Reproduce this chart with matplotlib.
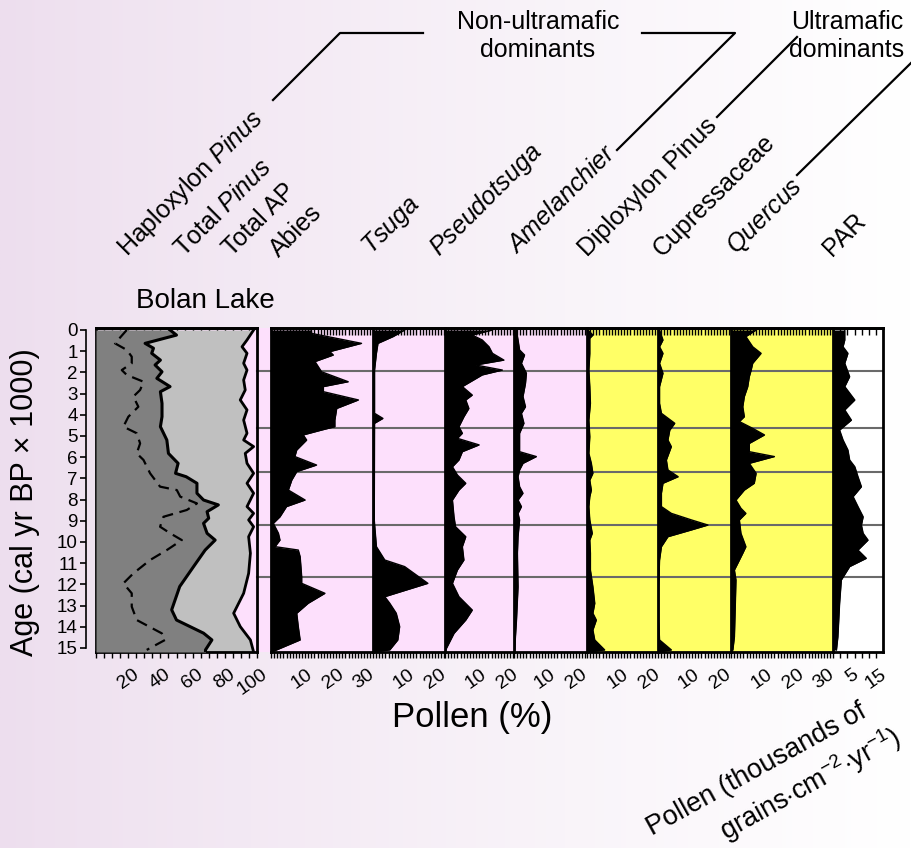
import numpy as np
import matplotlib
matplotlib.use('Agg')
import matplotlib.pyplot as plt
from matplotlib.transforms import ScaledTranslation, blended_transform_factory
from matplotlib.ticker import MultipleLocator, FixedLocator
from matplotlib.patches import Rectangle
from matplotlib.lines import Line2D

plt.rcParams['font.family'] = ['Liberation Sans', 'DejaVu Sans']
plt.rcParams['mathtext.fontset'] = 'custom'
plt.rcParams['mathtext.rm'] = 'Liberation Sans'
plt.rcParams['mathtext.it'] = 'Liberation Sans:italic'

# ---------------- data (ages in cal yr BP x 1000) ----------------
tp_age = [0, 0.24, 0.63, 0.86, 1.1, 1.42, 1.65, 1.97, 2.28, 2.67, 2.91, 3.46, 4.09, 4.56, 5.19, 5.82,
          6.29, 6.76, 6.92, 7.23, 7.7, 8.02, 8.25, 8.57, 8.88, 9.12, 9.59, 9.91, 10.38, 11.16, 12.1,
          13.2, 13.68, 14.3, 14.62, 15.09, 15.19]
tp_val = [46, 50, 30.5, 35.7, 34.6, 40, 36.7, 41, 37.8, 46, 40, 41, 41, 40, 44, 45, 51, 49.4, 56,
          62.7, 62.7, 66.8, 76, 69, 70, 66.8, 69, 74, 67.8, 60.6, 52, 47, 50, 66.8, 72, 68, 68]

ap_age = [0, 0.47, 0.79, 1.1, 1.57, 1.89, 2.36, 2.83, 3.3, 3.77, 4.25, 4.87, 5.19, 5.5, 5.82, 6.29,
          6.76, 7.23, 7.7, 8.33, 8.65, 8.96, 9.28, 9.75, 10.53, 11.48, 12.42, 13.36, 13.99, 14.62, 15.19]
ap_val = [97.9, 93.8, 90.7, 93.8, 91.7, 93.8, 91.7, 92.7, 89.6, 93.8, 91.7, 93.8, 91.7, 97.9, 92.7,
          93.8, 97.9, 93.8, 97.9, 93.8, 97.9, 94.8, 97.9, 94.8, 95.9, 94.8, 91.7, 85.5, 89.6, 95.9, 97.9]

hap_age = [0, 0.63, 0.94, 1.26, 1.57, 1.89, 2.12, 2.44, 2.83, 3.14, 3.62, 4.09, 4.56, 4.87, 5.35,
           5.82, 6.13, 6.76, 7.39, 7.55, 7.86, 8.18, 8.49, 8.81, 9.28, 9.59, 9.91, 10.38, 10.85,
           11.48, 11.95, 12.42, 13.05, 13.68, 14.31, 14.62, 15.09]
hap_val = [19.1, 11.8, 19.1, 22.2, 22.2, 16, 19.1, 29.5, 27.4, 23.2, 26.3, 20.1, 17, 25.3, 27.4,
           25.3, 29.5, 33.6, 39.8, 50.2, 52.3, 62.7, 56.4, 41.9, 39.8, 46.1, 53.3, 44, 33.6, 23.2,
           17, 22.2, 22.2, 25.3, 40.9, 42.9, 31.5]

abies_age = [0, 0.16, 0.63, 1.02, 1.18, 1.49, 1.97, 2.44, 2.67, 2.91, 3.3, 3.7, 4.25, 4.56, 4.72,
             4.95, 5.19, 5.66, 5.97, 6.37, 6.68, 7.08, 7.55, 8.02, 8.33, 8.81, 9.12, 9.59, 9.91,
             10.22, 10.38, 10.69, 11.64, 11.95, 12.42, 12.89, 13.36, 13.99, 14.62, 15.19]
abies_val = [13, 13.1, 29.2, 19, 20.1, 14.2, 16.3, 24.9, 16.9, 16.9, 28.2, 21.2, 20.6, 20.6, 16.3,
             10.4, 11.5, 8.3, 7.7, 14.7, 8.3, 6.7, 5.6, 11, 5, 2.9, 0.75, 2.4, 2.9, 1.3, 8.8, 9.4,
             9.9, 9.9, 17.4, 12, 8.3, 8.8, 9.4, 0.2]

tsuga_age = [0, 0.31, 0.63, 1.1, 1.89, 3.93, 4.17, 4.4, 8.96, 10.22, 10.85, 11.16, 11.95, 12.58,
             12.89, 13.36, 13.99, 14.62, 15.09, 15.19]
tsuga_val = [10.2, 6.5, 1.6, 1.1, 0.5, 0.5, 3.2, 0.5, 0.4, 1.1, 3.8, 10.2, 17.7, 3.8, 5.4, 7.5,
             8.6, 8, 5.4, 0]

pseudo_age = [0, 0.24, 0.47, 0.79, 1.1, 1.42, 1.65, 1.89, 2.12, 2.67, 3.07, 3.3, 3.7, 4.09, 4.56,
              4.87, 5.11, 5.42, 5.74, 6.13, 6.45, 6.84, 7.23, 7.55, 8.02, 8.81, 9.28, 9.75, 10.22,
              10.85, 11.32, 11.95, 12.58, 13.21, 13.68, 14.31, 15.09]
pseudo_val = [15.3, 8.8, 12, 14.2, 15.3, 19, 9.9, 18.5, 12, 5.6, 8.8, 6.7, 7.7, 6.1, 4.5, 5.6, 4,
              11, 5.6, 4.5, 2.4, 4, 6.7, 4.5, 2.4, 2.9, 3.4, 6.7, 5.6, 6.1, 4, 2.4, 4.5, 8.8, 6.7,
              2.9, 0.2]

amel_age = [0, 0.47, 0.94, 1.18, 1.57, 2.04, 2.52, 3.14, 3.62, 3.93, 4.4, 4.87, 5.74, 5.97, 6.29,
            6.6, 6.92, 7.39, 7.7, 8.02, 8.33, 8.65, 8.96, 9.75, 10.53, 12.11, 13.68, 15.09]
amel_val = [0.8, 1.3, 1.8, 3.4, 2.4, 4, 3.7, 2.9, 3.7, 2.4, 3.2, 1.8, 1.8, 7.2, 2.9, 1.8, 1.3, 1.8,
            2.9, 1.3, 2.4, 1.3, 1.8, 1.3, 1.1, 1.3, 0.8, 0.2]

diplo_age = [0, 0.24, 0.39, 1.1, 1.89, 2.67, 3.46, 4.25, 5.03, 5.82, 6.29, 6.76, 7.08, 7.55, 7.86,
             8.33, 8.96, 9.59, 9.91, 10.53, 11.32, 12.11, 12.89, 13.36, 13.68, 14.15, 14.62,
             15.09, 15.19]
diplo_val = [0.3, 1.9, 0.9, 0.9, 0.6, 0.9, 1.1, 0.6, 0.9, 0.6, 1.4, 1.9, 0.9, 1.4, 0.9, 0.6, 0.9,
             1.7, 0.9, 1.1, 1.1, 1.9, 2.5, 1.9, 3, 1.9, 2.5, 5.7, 0.3]

cupr_age = [0, 0.47, 0.79, 1.1, 1.57, 2.04, 2.67, 3.46, 3.93, 4.4, 4.72, 5.19, 5.5, 6.13, 6.6,
            6.92, 7.23, 7.7, 8.33, 8.65, 8.96, 9.2, 9.43, 9.75, 10.22, 10.85, 12.11, 13.68, 14.62,
            15.09, 15.19]
cupr_val = [0.5, 1.6, 0.5, 1.6, 0.5, 1.6, 0.5, 0.5, 1.1, 5.4, 3.8, 3.2, 4.3, 2.7, 3.2, 6.5, 1.6,
            1.1, 1.1, 4.3, 10.8, 16.1, 10.8, 3.2, 1.1, 0.5, 0.2, 0.2, 0.5, 4.3, 0]

querc_age = [0, 0.31, 0.79, 1.1, 1.57, 1.89, 2.2, 2.67, 3.14, 3.62, 4.09, 4.32, 4.64, 4.95, 5.35,
             5.74, 5.97, 6.29, 6.76, 7.23, 7.55, 8.02, 8.41, 8.65, 8.96, 9.59, 10.22, 10.53, 11.0,
             11.32, 11.79, 12.89, 14.47, 15.09]
querc_val = [8.1, 4.8, 7, 9.7, 7, 6.5, 5.9, 5.4, 4.3, 3.8, 4.3, 2.7, 7, 10.8, 5.9, 5.9, 14, 5.9,
             8.1, 7.5, 4.3, 1.6, 3.2, 4.8, 2.7, 3.2, 4.8, 3.8, 2.2, 1.1, 1.6, 1.4, 1.1, 0.6]

par_age = [0, 0.47, 0.79, 1.1, 1.57, 2.2, 2.67, 3.3, 3.77, 4.25, 4.72, 5.19, 5.66, 6.13, 6.45,
           6.92, 7.39, 7.86, 8.33, 8.81, 9.2, 9.59, 9.91, 10.38, 10.77, 11.16, 11.79, 12.89,
           14.47, 15.09]
par_val = [4.1, 4.1, 3.5, 5.2, 4.1, 5.8, 4.1, 7.6, 4.1, 6.4, 2.3, 3.5, 5.2, 5.8, 7.6, 8.7, 9.9, 7,
           8.7, 10.5, 9.9, 10.5, 12.2, 8.7, 11.6, 5.8, 2.9, 2.3, 1.7, 1.2]

zone_ages = [1.95, 4.6, 6.7, 9.2, 11.65]
age_ticks = list(range(0, 16))

species_labels = [r"Haploxylon $\it{Pinus}$", r"Total $\it{Pinus}$", "Total AP", "Abies",
                  r"$\it{Tsuga}$", r"$\it{Pseudotsuga}$", r"$\it{Amelanchier}$",
                  "Diploxylon Pinus", "Cupressaceae", r"$\it{Quercus}$", "PAR"]

# ---------------- layout ----------------
W, H = 911, 848
fig = plt.figure(figsize=(W / 100, H / 100), dpi=100)

def fx(x):
    return x / W

def fy(y):
    return 1 - y / H

# background gradient
bg = fig.add_axes([0, 0, 1, 1], zorder=-10)
gx = np.linspace(0, 1, 400)[None, :]
gy = np.linspace(0, 1, 300)[:, None]
t = np.clip(gx ** 0.85 + 0.0 * gy, 0, 1)
c0 = np.array([237, 222, 238]) / 255.0
img = c0[None, None, :] * (1 - t[..., None]) + np.ones(3)[None, None, :] * t[..., None]
bg.imshow(img, aspect='auto', extent=[0, 1, 0, 1])
bg.axis('off')

PINK = '#fde0fc'
YELLOW = '#ffff66'
TOP, BOT = 328, 652
AGE0_Y, PX_PER_KA = 330, 21.2
ylim = ((BOT - AGE0_Y) / PX_PER_KA, (TOP - AGE0_Y) / PX_PER_KA)

def panel(x0, x1, face):
    ax = fig.add_axes([fx(x0), fy(BOT), (x1 - x0) / W, (BOT - TOP) / H])
    ax.set_facecolor(face)
    ax.set_ylim(*ylim)
    ax.set_yticks([])
    for s in ax.spines.values():
        s.set_linewidth(2)
    return ax

def ruler(ax, majors, minor):
    ax.xaxis.set_major_locator(FixedLocator(majors))
    ax.xaxis.set_minor_locator(MultipleLocator(minor))
    ax.tick_params(axis='x', which='both', direction='out', length=4, width=1, bottom=True,
                   top=False, labelsize=14, pad=6)
    ax.set_xticklabels([str(m) for m in majors])
    for lab in ax.get_xticklabels():
        lab.set_rotation(35)
        lab.set_ha('right')
        lab.set_va('top')
        lab.set_rotation_mode('anchor')
        lab.set_transform(lab.get_transform() + ScaledTranslation(4 / 100, 0, fig.dpi_scale_trans))
    sec = ax.secondary_xaxis('top')
    sec.xaxis.set_major_locator(FixedLocator(majors))
    sec.xaxis.set_minor_locator(MultipleLocator(minor))
    sec.tick_params(axis='x', which='both', direction='in', length=5, width=1, labeltop=False)
    sec.spines['top'].set_linewidth(2)

# gap pink between panel 1 and Abies
fig.add_artist(Rectangle((fx(257), fy(BOT)), (271 - 257) / W, (BOT - TOP) / H,
                         transform=fig.transFigure, facecolor=PINK, edgecolor='none', zorder=0))

# Panel 1 : summary
ax1 = panel(96, 257, PINK)
ax1.set_xlim(0, 100)
ax1.fill_betweenx(ap_age, 0, ap_val, color='#c0c0c0', lw=0, zorder=2)
ax1.plot(ap_val, ap_age, color='k', lw=2, zorder=3)
ax1.fill_betweenx(tp_age, 0, tp_val, color='#808080', lw=0, zorder=4)
ax1.plot(tp_val, tp_age, color='k', lw=2.2, zorder=5)
ax1.plot(hap_val, hap_age, color='k', lw=1.6, ls=(0, (5, 3)), zorder=6)
ruler(ax1, [20, 40, 60, 80, 100], 5)
tr = blended_transform_factory(ax1.transAxes, ax1.transData)
for za in zone_ages:
    ax1.plot([1.0, (271 - 96) / 161], [za, za], transform=tr, color='#6a6a6a', lw=1.5,
             clip_on=False, zorder=1)

panels = [
    (271, 373, PINK, 3.1, abies_age, abies_val, [10, 20, 30], 1),
    (373, 445, PINK, 3.1, tsuga_age, tsuga_val, [10, 20], 1),
    (445, 514, PINK, 3.1, pseudo_age, pseudo_val, [10, 20], 1),
    (514, 587, PINK, 3.1, amel_age, amel_val, [10, 20], 1),
    (587, 658, YELLOW, 3.1, diplo_age, diplo_val, [10, 20], 1),
    (658, 731, YELLOW, 3.1, cupr_age, cupr_val, [10, 20], 1),
    (731, 833, YELLOW, 3.1, querc_age, querc_val, [10, 20, 30], 1),
    (833, 883, 'white', 2.87, par_age, par_val, [5, 15], 2.5),
]
for i, (x0, x1, face, pxu, ages, vals, majors, minor) in enumerate(panels):
    ax = panel(x0, x1, face)
    ax.set_xlim(0, (x1 - x0) / pxu)
    if i < len(panels) - 1:
        ax.spines['right'].set_visible(False)
    for za in zone_ages:
        ax.axhline(za, color='#6a6a6a', lw=1.5, zorder=1)
    ax.fill_betweenx(ages, 0, vals, color='black', lw=0, zorder=2)
    ax.plot(vals, ages, color='black', lw=1, zorder=3)
    ruler(ax, majors, minor)

# age axis (offset)
axa = fig.add_axes([fx(86), fy(BOT), 0.0001, (BOT - TOP) / H])
axa.set_ylim(*ylim)
axa.patch.set_visible(False)
for k in ['top', 'right', 'bottom']:
    axa.spines[k].set_visible(False)
axa.spines['left'].set_bounds(0, 15)
axa.spines['left'].set_linewidth(1.2)
axa.set_xticks([])
axa.set_yticks(age_ticks)
axa.set_yticklabels([str(a) for a in age_ticks])
axa.tick_params(axis='y', length=4, width=1.2, labelsize=13.5, pad=2)

# ---------------- text ----------------
fig.text(fx(205), fy(301), 'Bolan Lake', ha='center', va='center', fontsize=20)
fig.text(fx(25), fy(502), 'Age (cal yr BP \u00d7 1000)', rotation=90, ha='center', va='center',
         fontsize=22)
fig.text(fx(472), fy(718), 'Pollen (%)', ha='center', va='center', fontsize=25)
fig.text(fx(757), fy(770), 'Pollen (thousands of', rotation=29, ha='center', va='center',
         rotation_mode='anchor', fontsize=19.5)
fig.text(fx(810), fy(784), r'grains$\cdot$cm$^{-2}$$\cdot$yr$^{-1}$)', rotation=29, ha='center',
         va='center', rotation_mode='anchor', fontsize=19.5)

label_pos = [(118, 257), (175, 258), (223, 257), (270, 258), (362, 255), (430, 257), (508, 255),
             (578, 257), (653, 257), (727, 255), (823, 257)]
for name, (x, y) in zip(species_labels, label_pos):
    fig.text(fx(x + 9), fy(y), name, rotation=45, rotation_mode='anchor', ha='left', va='baseline',
             fontsize=18)

fig.text(fx(538), fy(36), 'Non-ultramafic\ndominants', ha='center', va='center', fontsize=18,
         multialignment='center', linespacing=1.25)
fig.text(fx(847), fy(36), 'Ultramafic\ndominants', ha='center', va='center', fontsize=18,
         multialignment='center', linespacing=1.25)

group_lines = [
    [(273, 100), (340, 33), (423, 33)],
    [(642, 33), (735, 33), (617, 150)],
    [(717, 117), (797, 37)],
    [(797, 175), (911, 63)],
]
for pts in group_lines:
    xs = [fx(p[0]) for p in pts]
    ys = [fy(p[1]) for p in pts]
    fig.add_artist(Line2D(xs, ys, transform=fig.transFigure, color='black', lw=1.6))

fig.savefig('out.png', dpi=100)
